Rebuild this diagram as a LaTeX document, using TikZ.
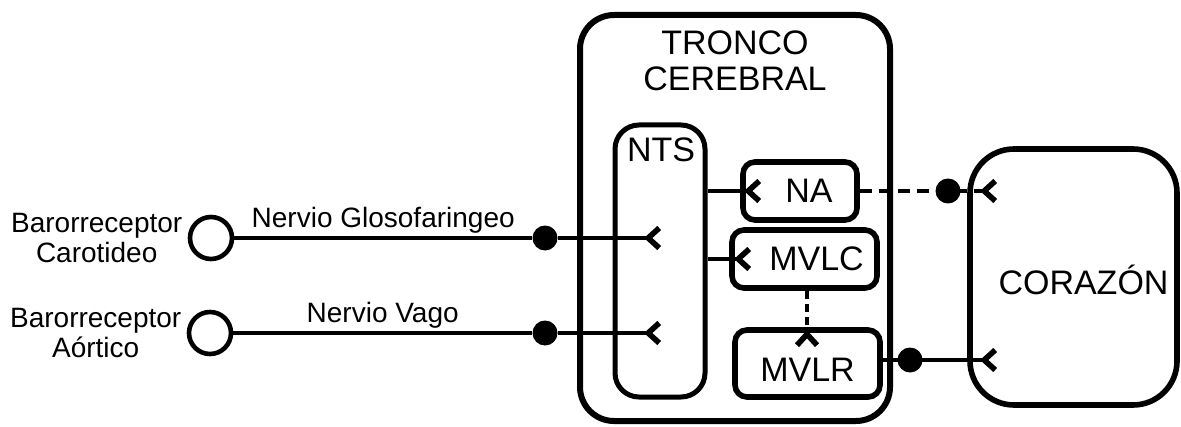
\documentclass[tikz,border=0pt]{standalone}
\usepackage{fontspec}
\setmainfont{Liberation Sans}
\usetikzlibrary{arrows.meta,positioning}

\tikzset{
  caja/.style={draw,line width=2.8pt,rounded corners=6pt,inner sep=0pt},
  txtcaja/.style={font=\fontsize{17}{18}\selectfont,inner sep=0pt},
  receptor/.style={draw,circle,line width=2.3pt,minimum size=21pt,inner sep=0pt},
  punto/.style={fill,circle,minimum size=12.5pt,inner sep=0pt},
  nervio/.style={line width=2.1pt},
  rotulo/.style={font=\fontsize{14}{15}\selectfont,inner sep=1.5pt}
}

\begin{document}
\begin{tikzpicture}[x=0.5pt,y=-0.5pt,>={Straight Barb[reversed,length=5.5pt,width=10pt,line width=2.8pt]}]
\useasboundingbox (0,0) rectangle (1181,427);
% tronco cerebral y sus nucleos
\node[caja,rounded corners=17pt,line width=3pt,minimum width=155pt,minimum height=203pt] (tronco) at (735,218) {};
\node[txtcaja,align=center] (troncotxt) at (735,61) {TRONCO\\CEREBRAL};
\node[caja,rounded corners=12pt,line width=2.5pt,minimum width=45pt,minimum height=136pt] (nts) at (660,261) {};
\node[txtcaja] (ntstxt) at (661,150) {NTS};
\node[caja,minimum width=57pt,minimum height=29pt,label={[txtcaja,xshift=4.5pt]center:NA}] (na) at (800,191) {};
\node[caja,minimum width=72.5pt,minimum height=29pt,label={[txtcaja,xshift=6pt]center:MVLC}] (mvlc) at (804.5,259) {};
\node[caja,minimum width=72.5pt,minimum height=33.5pt,label={[txtcaja,yshift=-3pt]center:MVLR}] (mvlr) at (807.5,363.5) {};
% corazon
\node[caja,rounded corners=22pt,minimum width=103.5pt,minimum height=128pt,label={[txtcaja,xshift=5pt,yshift=-1.5pt]center:CORAZÓN}] (corazon) at (1073.5,277) {};

% barorreceptores
\node[receptor] (carot) at (211,238) {};
\node[receptor] (aort) at (210,333) {};
\node[rotulo,align=center,left=1pt of carot] (carottxt) {Barorreceptor\\Carotideo};
\node[rotulo,align=center,left=1pt of aort] (aorttxt) {Barorreceptor\\Aórtico};

\node[punto] (dotcar) at (545,238) {};
\node[punto] (dotaor) at (545,333) {};
\node[punto] (dotna) at (948,191) {};
\node[punto] (dotmv) at (910,360) {};

\coordinate (carotfin) at (662,238);
\coordinate (aortfin) at (662,333);
\coordinate (nafin) at (762,191);
\coordinate (mvlcfin) at (752,259);
\coordinate (mvlrfin) at (807,348);
\coordinate (corfinA) at (998,191);
\coordinate (corfinB) at (998,360);

% vias
\draw[nervio] (carot) -- node[rotulo,above] {Nervio Glosofaringeo} (dotcar);
\draw[nervio,->] (dotcar) -- (carotfin);
\draw[nervio] (aort) -- node[rotulo,above] {Nervio Vago} (dotaor);
\draw[nervio,->] (dotaor) -- (aortfin);
\draw[nervio,->] (nts.east |- na) -- (nafin);
\draw[nervio,->] (nts.east |- mvlc) -- (mvlcfin);
\draw[nervio,dash pattern=on 4pt off 2.5pt,->] (mvlc.south -| mvlrfin) -- (mvlrfin);
\draw[nervio,dash pattern=on 6pt off 3.5pt,->] (na.east) -- (corfinA);
\draw[nervio,->] (mvlr.east |- dotmv) -- (corfinB);
\end{tikzpicture}
\end{document}
